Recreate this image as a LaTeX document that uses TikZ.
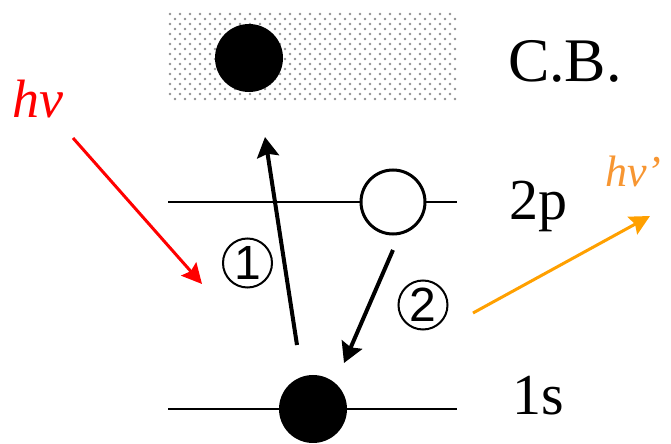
\documentclass[tikz,border=0pt]{standalone}
\usepackage{fontspec}
\setmainfont{Liberation Serif}
\newfontfamily\digitfont{Liberation Sans}
\usetikzlibrary{arrows.meta}

\definecolor{photonred}{RGB}{255,0,0}
\definecolor{photonorange}{RGB}{255,160,0}
\definecolor{labelorange}{RGB}{247,150,50}
\definecolor{dotgray}{RGB}{145,145,145}

\begin{document}
\begin{tikzpicture}[
x=0.5pt, y=-0.5pt,
every node/.style={
inner sep=0pt,
outer sep=0pt
},
arrow/.style={-{Stealth[length=10pt,width=11pt,inset=1.5pt]}, line width=2pt},
photon/.style={-{Stealth[length=10pt,width=10pt,inset=1.5pt]}, line width=1.5pt}
]
\useasboundingbox (0,0) rectangle (671,444);

% =====================================================
% Styles
% =====================================================

\tikzstyle{level} =
[line width=1pt]

\tikzstyle{electron} =
[circle,
fill=black,
minimum size=34pt]

\tikzstyle{vacancy} =
[circle,
fill=white,
draw=black,
line width=1.5pt,
minimum size=32pt]

\tikzstyle{statelabel} =
[anchor=base west,
font=\fontsize{29}{29}\selectfont]

\tikzstyle{stepmark} =
[circle,
draw=black,
line width=1pt,
minimum size=24.5pt,
font=\digitfont\fontsize{24}{24}\selectfont]

% =====================================================
% Conduction band
% =====================================================

\foreach \r in {0,...,17} {
  \pgfmathsetmacro\shift{mod(\r,2)*5}
  \foreach \c in {0,...,28}
    \fill[dotgray] (170+\c*10+\shift, 14+\r*5) circle (0.65pt);
}

% =====================================================
% Levels
% =====================================================

\coordinate (p-left) at (168,202);
\coordinate (p-right) at (457,202);
\coordinate (s-left) at (168,409);
\coordinate (s-right) at (457,409);

\draw [level] (p-left) -- (p-right);

\draw [level] (s-left) -- (s-right);

% =====================================================
% Nodes
% =====================================================

\node (cbe) [electron] at (249,58) {};

\node (hole) [vacancy] at (393,202) {};

\node (gse) [electron] at (313,409) {};

\node (cblabel) [statelabel, font=\fontsize{31}{31}\selectfont] at (508,82)
{C.B.};

\node (plabel) [statelabel] at (509,220)
{2p};

\node (slabel) [statelabel] at (512,415)
{1s};

\node (hvin) [anchor=base west, text=photonred,
font=\fontsize{27}{27}\selectfont\itshape] at (12,118)
{hν};

\node (hvout) [anchor=base west, text=labelorange,
font=\fontsize{22}{22}\selectfont\itshape] at (605,187)
{hν’};

\node (one) [stepmark] at (247.5,263)
{1};

\node (two) [stepmark] at (423,305)
{2};

% =====================================================
% Arrows
% =====================================================

\coordinate (exc-start) at (297,345);
\coordinate (exc-end) at (265,137);
\coordinate (rel-start) at (393,250);
\coordinate (rel-end) at (344,363);
\coordinate (in-start) at (73,138);
\coordinate (in-end) at (202,284);
\coordinate (out-start) at (473,313);
\coordinate (out-end) at (650,216);

\draw [arrow] (exc-start) -- (exc-end);

\draw [arrow] (rel-start) -- (rel-end);

\draw [photon, photonred] (in-start) -- (in-end);

\draw [photon, photonorange] (out-start) -- (out-end);

\end{tikzpicture}
\end{document}
